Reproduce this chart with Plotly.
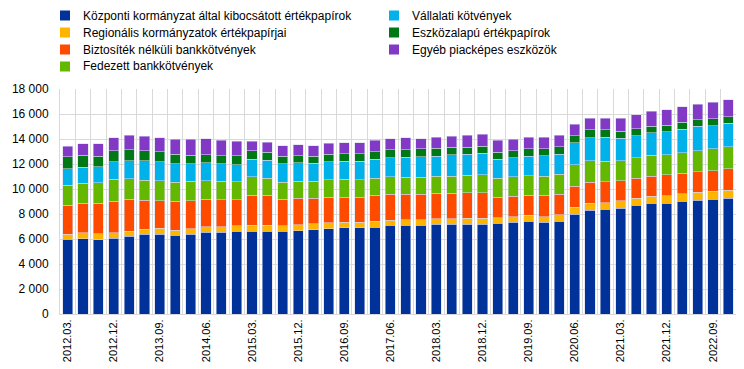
import plotly.graph_objects as go

quarters = [f"{y}.{m}." for y in range(2012, 2023) for m in ("03", "06", "09", "12")]

central_gov = [5970, 6020, 5940, 6050, 6230, 6370, 6370, 6310, 6370, 6550, 6550, 6610, 6610, 6610, 6610, 6660,
               6740, 6820, 6900, 6900, 6960, 7090, 7090, 7090, 7170, 7170, 7200, 7200, 7250, 7330, 7410, 7330,
               7410, 7970, 8290, 8370, 8480, 8690, 8850, 8880, 9020, 9100, 9180, 9260]
regional_gov = [400, 480, 480, 450, 400, 400, 480, 400, 450, 430, 430, 450, 480, 480, 450, 480,
                480, 480, 460, 460, 450, 430, 450, 450, 450, 450, 480, 480, 450, 450, 480, 450,
                540, 560, 560, 540, 590, 560, 590, 590, 590, 640, 640, 640]
unsecured_bank = [2350, 2350, 2430, 2540, 2540, 2330, 2220, 2300, 2250, 2190, 2170, 2090, 2430, 2410, 2140, 2110,
                  2030, 2060, 2000, 2000, 2110, 2060, 2030, 2030, 2030, 2060, 2010, 2010, 1660, 1660, 1630, 1710,
                  1630, 1690, 1710, 1690, 1580, 1610, 1580, 1660, 1660, 1630, 1630, 1710]
covered_bank = [1600, 1630, 1660, 1740, 1660, 1600, 1580, 1550, 1550, 1500, 1470, 1420, 1450, 1360, 1360, 1370,
                1390, 1370, 1420, 1370, 1340, 1390, 1390, 1390, 1360, 1360, 1420, 1470, 1500, 1530, 1530, 1550,
                1610, 1710, 1690, 1630, 1630, 1630, 1690, 1600, 1630, 1710, 1770, 1770]
corporate = [1310, 1280, 1280, 1420, 1420, 1550, 1520, 1470, 1420, 1440, 1420, 1390, 1420, 1450, 1470, 1470,
             1420, 1470, 1450, 1500, 1530, 1520, 1580, 1630, 1630, 1690, 1660, 1710, 1530, 1520, 1580, 1630,
             1600, 1790, 1870, 1900, 1770, 1770, 1790, 1870, 1900, 1930, 1850, 1870]
asset_backed = [940, 940, 830, 860, 880, 800, 800, 750, 670, 620, 640, 700, 670, 620, 590, 560,
                560, 590, 590, 610, 590, 640, 610, 620, 620, 620, 590, 560, 560, 590, 590, 560,
                590, 560, 620, 620, 560, 560, 530, 510, 540, 540, 560, 540]
other = [860, 940, 990, 1040, 1180, 1180, 1150, 1200, 1260, 1310, 1230, 1180, 780, 830, 860, 880,
         860, 860, 880, 860, 940, 880, 960, 830, 880, 880, 940, 940, 940, 910, 910, 910,
         940, 910, 910, 910, 1040, 1120, 1180, 1230, 1230, 1230, 1310, 1340]

series_names = [
    "Központi kormányzat által kibocsátott értékpapírok",
    "Regionális kormányzatok értékpapírjai",
    "Biztosíték nélküli bankkötvények",
    "Fedezett bankkötvények",
    "Vállalati kötvények",
    "Eszközalapú értékpapírok",
    "Egyéb piacképes eszközök",
]
series_values = [central_gov, regional_gov, unsecured_bank, covered_bank, corporate, asset_backed, other]
series_colors = ["#003299", "#FFB400", "#FF4B00", "#65B800", "#00B1EA", "#007816", "#8139C6"]

W, H = 744, 369
ML, MR, MT, MB = 52, 16, 81, 63
PW, PH = W - ML - MR, H - MT - MB

def px2paper(x, y):
    return (x - ML) / PW, (H - MB - y) / PH

xpos = list(range(len(quarters)))
font_family = "Liberation Sans, Arial, sans-serif"

fig = go.Figure()
for name, vals, color in zip(series_names, series_values, series_colors):
    fig.add_trace(go.Bar(
        x=xpos, y=vals, name=name, showlegend=False,
        marker=dict(color=color, line=dict(color="rgba(215,215,235,0.9)", width=0.6)),
        width=0.66,
    ))

# manual legend (two columns, 4 + 3 entries)
shapes, annotations = [], []
col_x = [52, 381]
row_y0, row_dy = 7.5, 17
for i, (name, color) in enumerate(zip(series_names, series_colors)):
    col = 0 if i < 4 else 1
    row = i if i < 4 else i - 4
    sx = col_x[col]
    cy = row_y0 + row * row_dy
    x0, y0 = px2paper(sx, cy + 5)
    x1, y1 = px2paper(sx + 10, cy - 5)
    shapes.append(dict(type="rect", xref="paper", yref="paper", x0=x0, x1=x1, y0=y0, y1=y1,
                       fillcolor=color, line=dict(width=0)))
    tx, ty = px2paper(sx + 21, cy)
    annotations.append(dict(xref="paper", yref="paper", x=tx, y=ty, xanchor="left", yanchor="middle",
                            text=name, showarrow=False, font=dict(size=12, color="#000000")))

fig.update_layout(
    barmode="stack",
    width=W, height=H,
    margin=dict(l=ML, r=MR, t=MT, b=MB, autoexpand=False),
    paper_bgcolor="white", plot_bgcolor="white",
    separators=", ",
    font=dict(family=font_family, size=12, color="#000000"),
    showlegend=False,
    shapes=shapes, annotations=annotations,
)
fig.update_yaxes(
    range=[0, 18000], dtick=2000, tickformat=",d",
    showgrid=True, gridcolor="#D9D9D9", gridwidth=1,
    showline=True, linecolor="#D9D9D9", linewidth=1,
    ticks="", tickfont=dict(size=12), ticklabelstandoff=8, zeroline=False,
)
fig.update_xaxes(
    range=[-0.5, len(quarters) - 0.5],
    tickmode="array", tickvals=xpos[::3], ticktext=quarters[::3],
    tickangle=-90, tickfont=dict(size=11),
    showgrid=False,
    minor=dict(tick0=0.5, dtick=1, showgrid=True, gridcolor="#D9D9D9", gridwidth=1),
    showline=True, linecolor="#D9D9D9", linewidth=1, mirror=False,
    ticks="", zeroline=False,
)

fig.write_html("out.html")
